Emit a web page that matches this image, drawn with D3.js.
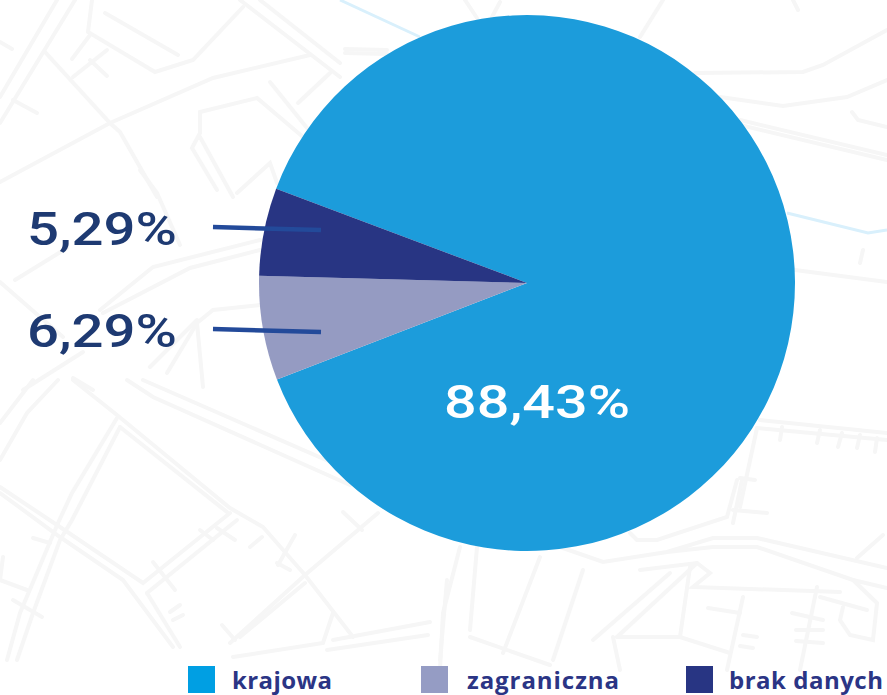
<!DOCTYPE html>
<html>
<head>
<meta charset="utf-8">
<script src="https://cdn.jsdelivr.net/npm/d3@7/dist/d3.min.js"></script>
<style>
html, body { margin: 0; padding: 0; background: #fff; overflow: hidden; }
svg { display: block; }
</style>
</head>
<body>
<svg width="887" height="695"></svg>
<script>
// slices, clockwise from the top-left edge
var categories = ["krajowa", "zagraniczna", "brak danych"];
var sliceValues = [88.43, 6.29, 5.29];
var sliceColors = ["#1c9cdb", "#959bc2", "#283583"];
var swatchColors = ["#009fe3", "#959cc4", "#283583"];
var sideLabels = ["5,29%", "6,29%"];
var mainLabel = "88,43%";

// faint street map behind the chart
var mapRoads = [
    [[57,0],[0,97]], [[75,0],[0,123]],
    [[92,0],[88,32],[155,72],[193,60],[243,7]], [[105,13],[178,55]],
    [[45,52],[110,123],[120,132],[157,197]],
    [[0,182],[110,123],[213,78],[310,55]],
    [[200,112],[257,98],[303,137]], [[200,112],[200,133],[192,148],[217,190]],
    [[200,137],[233,197]], [[237,193],[270,163],[277,183]],
    [[270,82],[307,128]], [[298,103],[330,73]], [[240,0],[340,77]], [[260,0],[340,63]],
    [[0,42],[12,49]], [[13,100],[37,113]], [[72,59],[90,35]], [[73,77],[107,50]], [[90,60],[107,76]],
    [[15,280],[67,248]], [[100,310],[153,267],[260,240]], [[103,313],[190,268],[260,250]],
    [[0,282],[63,337]], [[23,390],[83,352]], [[197,323],[213,310],[260,305]],
    [[73,378],[93,390]], [[150,367],[197,320]], [[167,373],[197,323]], [[197,323],[203,387]],
    [[140,170],[157,193],[180,245]],
    [[73,380],[117,415],[230,508],[263,527],[305,575],[353,637]],
    [[120,427],[227,512]],
    [[117,418],[72,493],[58,523],[20,613],[7,660]],
    [[120,427],[72,520],[60,540],[33,613],[17,660]],
    [[0,487],[60,527],[143,583],[230,513]],
    [[0,493],[60,537],[123,580],[173,647]],
    [[147,593],[237,520]], [[147,593],[180,647]],
    [[127,380],[153,397],[350,485]], [[143,380],[333,463]],
    [[378,513],[305,575],[230,643]], [[305,583],[240,637]],
    [[343,512],[362,530]], [[333,640],[430,622]],
    [[233,657],[323,643],[333,613]], [[327,650],[428,635]],
    [[153,562],[175,590]], [[3,557],[0,580],[27,590]], [[13,600],[42,617]],
    [[33,380],[0,423]], [[58,380],[27,413],[0,460]], [[33,538],[50,543]],
    [[200,530],[213,540]], [[217,528],[235,540]], [[250,547],[262,537]], [[278,565],[295,535]],
    [[277,563],[290,570]], [[170,612],[180,605]], [[173,620],[183,615]], [[222,625],[235,640]],
    [[630,533],[637,540],[657,540],[727,517],[737,480]],
    [[560,547],[603,562],[667,552],[713,538],[757,538],[887,568]],
    [[667,552],[713,547],[757,547],[853,580],[887,588]],
    [[540,557],[503,653]], [[583,570],[553,660]],
    [[670,573],[593,640]], [[697,563],[617,637]],
    [[640,570],[697,563],[710,573],[693,587],[840,592]],
    [[690,567],[680,637]], [[617,637],[680,637],[730,653]], [[613,637],[620,670]],
    [[470,637],[550,665]], [[743,597],[727,670]], [[817,587],[800,670]],
    [[853,580],[877,603],[873,640],[850,635],[840,620],[843,607]],
    [[708,608],[740,613]], [[792,613],[823,620]], [[820,597],[867,610]],
    [[796,630],[823,630]], [[796,641],[823,643]], [[743,635],[757,637]], [[740,646],[753,648]],
    [[460,547],[443,613],[440,670]], [[477,547],[470,630]],
    [[742,480],[733,523]], [[733,510],[767,513]], [[883,535],[857,558]],
    [[447,580],[440,660]],
    [[663,0],[640,37]], [[695,73],[803,72],[823,65],[887,30]],
    [[720,97],[783,106],[847,97],[887,80]],
    [[740,120],[887,155]], [[740,125],[887,160]],
    [[852,112],[858,120],[887,127]], [[793,0],[798,10]],
    [[465,0],[477,18]], [[500,2],[492,17]], [[345,49],[387,50]], [[345,53],[387,54]],
    [[795,270],[887,282]], [[860,263],[863,250]],
    [[760,420],[887,433]], [[757,428],[887,440]], [[757,428],[740,507]],
    [[780,440],[782,427]], [[817,443],[820,430]], [[838,447],[842,433]],
    [[857,448],[860,435]], [[875,452],[877,438]], [[740,478],[755,480]]
];
var mapRivers = [
    [[340,0],[420,37]],
    [[787,213],[868,233],[887,230]]
];

var svg = d3.select("svg");
var cx = 527, cy = 283, radius = 268;

var roadLine = d3.line();

svg.append("g").selectAll("path")
    .data(mapRoads)
    .enter().append("path")
    .attr("d", roadLine)
    .attr("fill", "none")
    .attr("stroke", "#f6f6f6")
    .attr("stroke-width", 4)
    .attr("stroke-linecap", "round");

svg.append("g").selectAll("path")
    .data(mapRivers)
    .enter().append("path")
    .attr("d", roadLine)
    .attr("fill", "none")
    .attr("stroke", "#d9f0fc")
    .attr("stroke-width", 3);

// pie
var startDeg = -69.4;
var pie = d3.pie()
    .sort(null)
    .startAngle(startDeg * Math.PI / 180)
    .endAngle((startDeg + 360) * Math.PI / 180);
var arc = d3.arc().innerRadius(0).outerRadius(radius);

svg.append("g")
    .attr("transform", "translate(" + cx + "," + cy + ")")
    .selectAll("path")
    .data(pie(sliceValues))
    .enter().append("path")
    .attr("d", arc)
    .attr("fill", function(d, i) { return sliceColors[i]; });

// leader lines and percent labels on the left
var leaderLine = svg.append("g");
sideLabels.forEach(function(label, i) {
    var baseline = 245 + i * 102;
    leaderLine.append("line")
        .attr("x1", 213).attr("y1", baseline - 18)
        .attr("x2", 321).attr("y2", baseline - 15)
        .attr("stroke", "#234a9a")
        .attr("stroke-width", 4.5);
    svg.append("text")
        .attr("x", 27).attr("y", baseline)
        .attr("textLength", 150)
        .attr("lengthAdjust", "spacingAndGlyphs")
        .attr("font-family", "Roboto")
        .attr("font-weight", 500)
        .attr("font-size", 46)
        .attr("fill", "#1e3a72")
        .text(label);
});

svg.append("text")
    .attr("x", 444).attr("y", 418)
    .attr("textLength", 186)
    .attr("lengthAdjust", "spacingAndGlyphs")
    .attr("font-family", "Roboto")
    .attr("font-weight", 500)
    .attr("font-size", 46)
    .attr("fill", "#ffffff")
    .text(mainLabel);

// legend
var legendSwatchX = d3.scaleOrdinal().domain(categories).range([188, 421, 686]);
var legendTextX = d3.scaleOrdinal().domain(categories).range([232, 467, 729]);
var legendTextW = d3.scaleOrdinal().domain(categories).range([100, 152, 154]);

var legend = svg.append("g").selectAll("g")
    .data(categories)
    .enter().append("g");

legend.append("rect")
    .attr("x", function(d) { return legendSwatchX(d); })
    .attr("y", 666)
    .attr("width", 27)
    .attr("height", 27)
    .attr("fill", function(d, i) { return swatchColors[i]; });

legend.append("text")
    .attr("x", function(d) { return legendTextX(d); })
    .attr("y", 689)
    .attr("textLength", function(d) { return legendTextW(d); })
    .attr("font-family", "'Open Sans'")
    .attr("font-weight", 700)
    .attr("font-size", 24)
    .attr("fill", "#2b3585")
    .text(function(d) { return d; });
</script>
</body>
</html>
